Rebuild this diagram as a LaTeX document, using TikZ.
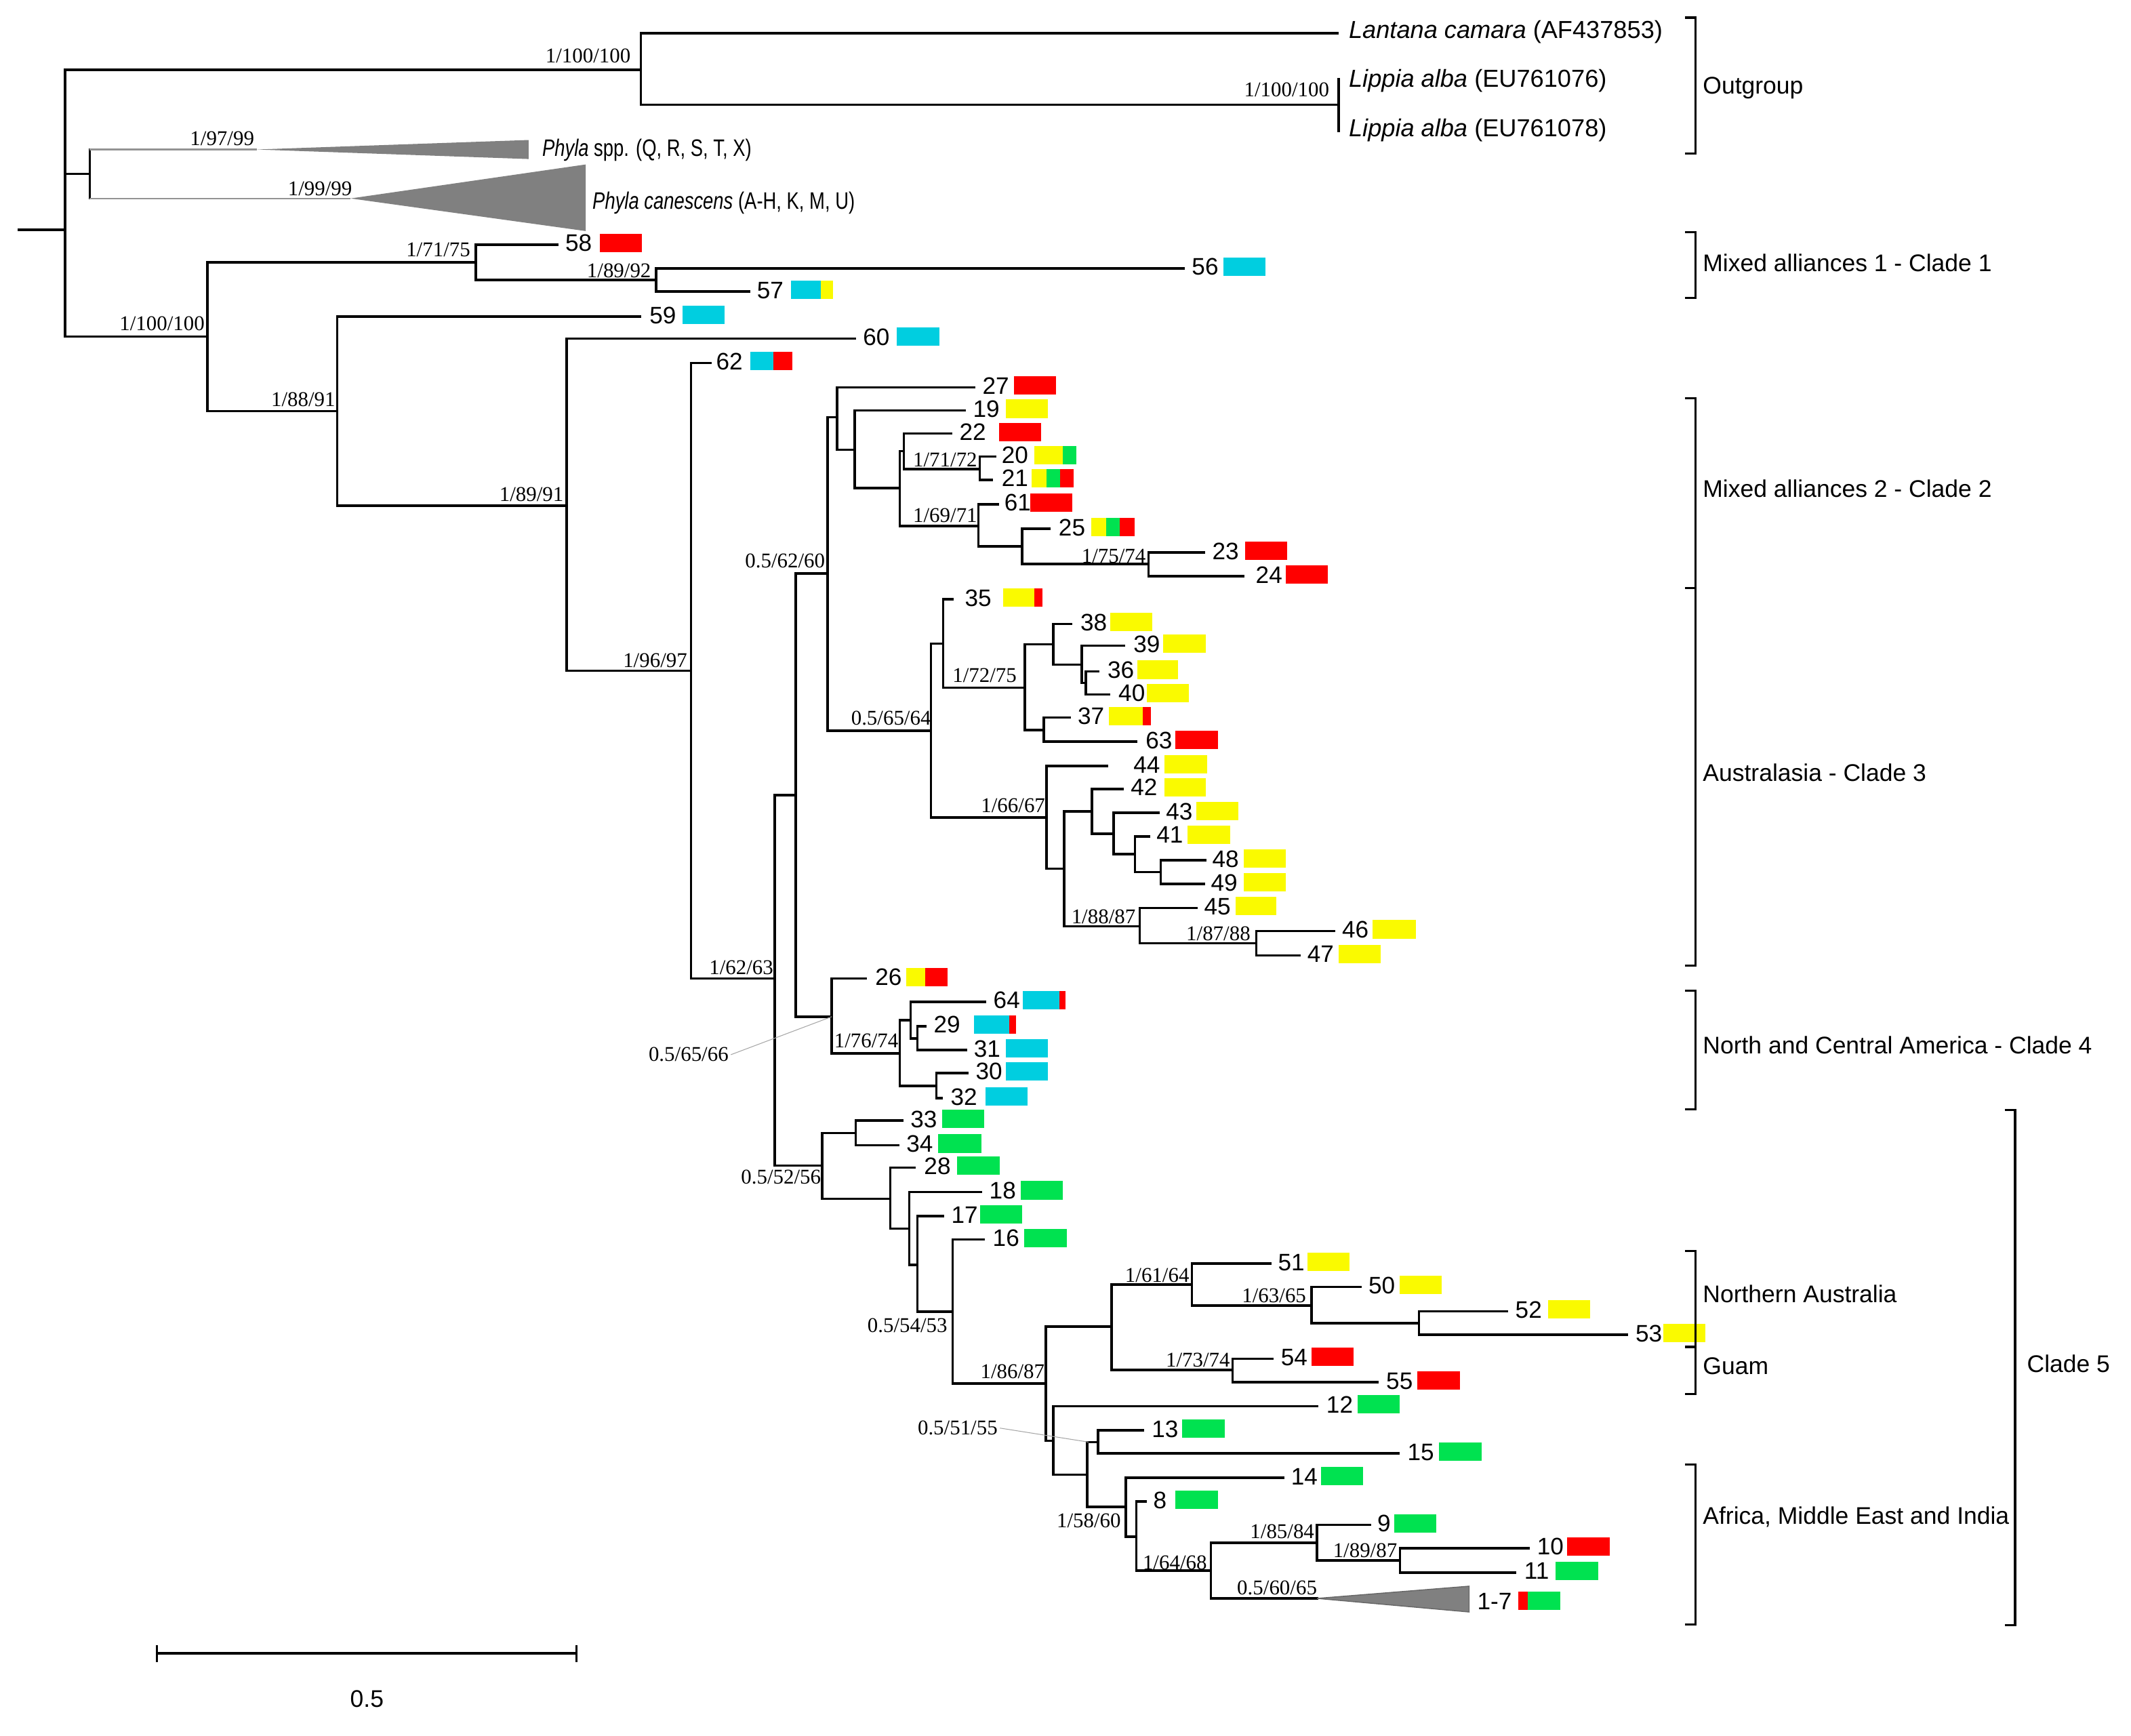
\documentclass[tikz,border=0pt]{standalone}
\usepackage{fontspec}
\setmainfont{Liberation Sans}
\setsansfont{Liberation Sans}
\newfontfamily\bsf{Liberation Serif}
\newfontfamily\nrw[FakeStretch=0.78]{Liberation Sans}
\definecolor{cyn}{RGB}{0,206,224}
\definecolor{yel}{RGB}{250,250,0}
\definecolor{grn}{RGB}{0,226,80}
\definecolor{red1}{RGB}{255,0,0}
\definecolor{tri}{RGB}{128,128,128}
\newcommand{\Br}[2]{\draw[br] (#1) |- (#2);}
\newcommand{\Lab}[4]{\node[num] (#1) at (#2,{#3+5}) {#4};}
\newcommand{\Bx}[4]{\fill[#4] (#2,{#1-8}) rectangle (#3,{#1+5.5});}
\newcommand{\Bs}[4]{\node[bs] (#1) at (#2,#3) {#4};}
\tikzset{
 br/.style={line width=1pt, line cap=rect},
 num/.style={font=\fontsize{10}{12}\selectfont, inner sep=0pt, outer sep=0pt, anchor=base west},
 bs/.style={font=\bsf\fontsize{8.8}{10}\selectfont, inner sep=0pt, outer sep=0pt, anchor=base east},
 clab/.style={font=\fontsize{10.1}{12}\selectfont, inner sep=0pt, outer sep=0pt, anchor=base west},
 olab/.style={font=\fontsize{10.3}{12}\selectfont, inner sep=0pt, outer sep=0pt, anchor=base west},
 nlab/.style={font=\nrw\fontsize{10}{12}\selectfont, inner sep=0pt, outer sep=0pt, anchor=base west},
 brk/.style={line width=0.9pt},
 gln/.style={line width=0.7pt, draw=tri!85},
 ldr/.style={line width=0.3pt, draw=black!35},
}
\begin{document}
\begin{tikzpicture}[x=0.02005cm, y=-0.02005cm]
\fill[white] (0,0) rectangle (1568,1277);
\useasboundingbox (0,0) rectangle (1568,1277);

% ---------- root and outgroup
\coordinate (rootL) at (14,169);
\coordinate (n0) at (48,169);
\draw[br] (rootL) -- (n0);
\coordinate (nOG) at (471.6,51.5);
\coordinate (tLan) at (984,24.4);
\coordinate (nLip) at (985,77);
\coordinate (tLip1) at (985,58);
\coordinate (tLip2) at (985,96.4);
\Br{n0}{nOG} \Br{nOG}{tLan} \Br{nOG}{nLip} \Br{nLip}{tLip1} \Br{nLip}{tLip2}
\node[olab] (lLan) at (992.5,28) {\textit{Lantana camara} (AF437853)};
\node[olab] (lLip1) at (992.5,64) {\textit{Lippia alba} (EU761076)};
\node[olab] (lLip2) at (992.5,100.6) {\textit{Lippia alba} (EU761078)};

% ---------- Phyla
\coordinate (nPh) at (66,128);
\Br{n0}{nPh}
\coordinate (pA) at (66,110);
\coordinate (pB) at (66,146);
\draw[br] (pA) -- (pB);
\coordinate (apx1) at (189,110);
\coordinate (apx2) at (258,146);
\draw[gln] (pA) -- (apx1);
\draw[gln] (pB) -- (apx2);
\fill[tri] (apx1) -- (389,103) -- (389,117) -- cycle;
\fill[tri] (apx2) -- (431,121) -- (431,170) -- cycle;
\node[nlab] (lPh1) at (399,115) {\textit{Phyla} spp. (Q, R, S, T, X)};
\node[nlab] (lPh2) at (436,154) {\textit{Phyla canescens} (A-H, K, M, U)};

% ---------- clade 1
\coordinate (nA) at (152.5,247.5); \Br{n0}{nA}
\coordinate (n1) at (350,193); \Br{nA}{n1}
\coordinate (t58) at (410,180); \Br{n1}{t58}
\coordinate (n2) at (482.8,206); \Br{n1}{n2}
\coordinate (t56) at (871,197.4); \Br{n2}{t56}
\coordinate (t57) at (551,214.5); \Br{n2}{t57}
\coordinate (nB) at (248,302.5); \Br{nA}{nB}
\coordinate (t59) at (471,233); \Br{nB}{t59}
\coordinate (nC) at (417,372); \Br{nB}{nC}
\coordinate (t60) at (629,249); \Br{nC}{t60}
\coordinate (nD) at (508.5,493.5); \Br{nC}{nD}
\coordinate (t62) at (523,267); \Br{nD}{t62}
\coordinate (nE) at (570,720); \Br{nD}{nE}
\coordinate (nF) at (585.5,585); \Br{nE}{nF}
\coordinate (nG) at (609,422); \Br{nF}{nG}

% ---------- clade 2
\coordinate (nI) at (616,307); \Br{nG}{nI}
\coordinate (t27) at (717,285); \Br{nI}{t27}
\coordinate (nJ) at (629,331); \Br{nI}{nJ}
\coordinate (t19) at (710,302); \Br{nJ}{t19}
\coordinate (nK2) at (662,359); \Br{nJ}{nK2}
\coordinate (nK) at (665,332); \Br{nK2}{nK}
\coordinate (t22) at (700,319); \Br{nK}{t22}
\coordinate (nL) at (721,345); \Br{nK}{nL}
\coordinate (t20) at (732,336); \Br{nL}{t20}
\coordinate (t21) at (730,353); \Br{nL}{t21}
\coordinate (nM) at (720,387); \Br{nK2}{nM}
\coordinate (t61) at (734,371); \Br{nM}{t61}
\coordinate (nN) at (752,402); \Br{nM}{nN}
\coordinate (t25) at (772,389); \Br{nN}{t25}
\coordinate (nO) at (845,415); \Br{nN}{nO}
\coordinate (t23) at (886,406.5); \Br{nO}{t23}
\coordinate (t24) at (915,424); \Br{nO}{t24}

% ---------- clade 3
\coordinate (nP) at (685,537.5); \Br{nG}{nP}
\coordinate (nQ) at (694,473.5); \Br{nP}{nQ}
\coordinate (t35) at (701,441); \Br{nQ}{t35}
\coordinate (nR) at (754,506); \Br{nQ}{nR}
\coordinate (nS) at (775,474); \Br{nR}{nS}
\coordinate (t38) at (788,459); \Br{nS}{t38}
\coordinate (nT) at (796,489); \Br{nS}{nT}
\coordinate (t39) at (827,475); \Br{nT}{t39}
\coordinate (nU) at (799,502.5); \Br{nT}{nU}
\coordinate (t36) at (808,494); \Br{nU}{t36}
\coordinate (t40) at (816,511); \Br{nU}{t40}
\coordinate (nV) at (768,537); \Br{nR}{nV}
\coordinate (t37) at (787,528); \Br{nV}{t37}
\coordinate (t63) at (836,545.6); \Br{nV}{t63}
\coordinate (nW) at (770,601.5); \Br{nP}{nW}
\coordinate (t44) at (814.5,563.6); \Br{nW}{t44}
\coordinate (nX) at (783,639); \Br{nW}{nX}
\coordinate (nY) at (803.5,597); \Br{nX}{nY}
\coordinate (t42) at (826,580.5); \Br{nY}{t42}
\coordinate (nZ) at (819.4,613.5); \Br{nY}{nZ}
\coordinate (t43) at (852.5,598); \Br{nZ}{t43}
\coordinate (nAA) at (835,628.5); \Br{nZ}{nAA}
\coordinate (t41) at (845.5,615.4); \Br{nAA}{t41}
\coordinate (nAB) at (854,641.7); \Br{nAA}{nAB}
\coordinate (t48) at (887,633); \Br{nAB}{t48}
\coordinate (t49) at (886,650.4); \Br{nAB}{t49}
\coordinate (nAC) at (838.5,681.5); \Br{nX}{nAC}
\coordinate (t45) at (880.5,668); \Br{nAC}{t45}
\coordinate (nAD) at (924.4,694); \Br{nAC}{nAD}
\coordinate (t46) at (981.6,685); \Br{nAD}{t46}
\coordinate (t47) at (956,703); \Br{nAD}{t47}

% ---------- clade 4
\coordinate (nH) at (612,748); \Br{nF}{nH}
\coordinate (t26) at (637,720); \Br{nH}{t26}
\coordinate (nAE) at (662,775); \Br{nH}{nAE}
\coordinate (nAF) at (670,750.5); \Br{nAE}{nAF}
\coordinate (t64) at (725,737); \Br{nAF}{t64}
\coordinate (nAG) at (675,764); \Br{nAF}{nAG}
\coordinate (t29) at (681,755); \Br{nAG}{t29}
\coordinate (t31) at (711,772.6); \Br{nAG}{t31}
\coordinate (nAH) at (689,799); \Br{nAE}{nAH}
\coordinate (t30) at (712,789.4); \Br{nAH}{t30}
\coordinate (t32) at (693,808); \Br{nAH}{t32}

% ---------- clade 5
\coordinate (nAI) at (605,857.5); \Br{nE}{nAI}
\coordinate (nAJ) at (629.6,833.5); \Br{nAI}{nAJ}
\coordinate (t33) at (664,824.5); \Br{nAJ}{t33}
\coordinate (t34) at (661,842.6); \Br{nAJ}{t34}
\coordinate (nAK) at (655,882); \Br{nAI}{nAK}
\coordinate (t28) at (673,859); \Br{nAK}{t28}
\coordinate (nAL) at (669,904); \Br{nAK}{nAL}
\coordinate (t18) at (721.7,877); \Br{nAL}{t18}
\coordinate (nAM) at (675,930.5); \Br{nAL}{nAM}
\coordinate (t17) at (694,894.8); \Br{nAM}{t17}
\coordinate (nAN) at (701,965); \Br{nAM}{nAN}
\coordinate (t16) at (724,912); \Br{nAN}{t16}
\coordinate (nAO) at (769.6,1018); \Br{nAN}{nAO}
\coordinate (nAP) at (818,976); \Br{nAO}{nAP}
\coordinate (nAQ) at (877,945); \Br{nAP}{nAQ}
\coordinate (t51) at (934.7,929.7); \Br{nAQ}{t51}
\coordinate (nAR) at (965,960.5); \Br{nAQ}{nAR}
\coordinate (t50) at (1001,946.8); \Br{nAR}{t50}
\coordinate (nAS) at (1044,973.4); \Br{nAR}{nAS}
\coordinate (t52) at (1109,964.7); \Br{nAS}{t52}
\coordinate (t53) at (1197,982); \Br{nAS}{t53}
\coordinate (nAT) at (907,1008); \Br{nAP}{nAT}
\coordinate (t54) at (936,999.6); \Br{nAT}{t54}
\coordinate (t55) at (1013.5,1017); \Br{nAT}{t55}
\coordinate (nAU) at (775,1060); \Br{nAO}{nAU}
\coordinate (t12) at (969,1034.5); \Br{nAU}{t12}
\coordinate (nAV) at (800,1085); \Br{nAU}{nAV}
\coordinate (nAW) at (808,1061); \Br{nAV}{nAW}
\coordinate (nAVtop) at (801,1061);
\coordinate (t13) at (841,1052.4); \Br{nAW}{t13}
\coordinate (t15) at (1029,1069.3); \Br{nAW}{t15}
\coordinate (nAX) at (828.5,1108.6); \Br{nAV}{nAX}
\coordinate (t14) at (944,1087.3); \Br{nAX}{t14}
\coordinate (nAY) at (836,1130.5); \Br{nAX}{nAY}
\coordinate (t8) at (843,1104.7); \Br{nAY}{t8}
\coordinate (nAZ) at (891,1155.5); \Br{nAY}{nAZ}
\coordinate (nBA) at (969,1135); \Br{nAZ}{nBA}
\coordinate (t9) at (1008,1122); \Br{nBA}{t9}
\coordinate (nBB) at (1030,1148); \Br{nBA}{nBB}
\coordinate (t10) at (1124.6,1139); \Br{nBB}{t10}
\coordinate (t11) at (1115,1157); \Br{nBB}{t11}
\coordinate (apx3) at (969,1176); \Br{nAZ}{apx3}
\filldraw[fill=tri, draw=black!60, line width=0.4pt] (apx3) -- (1081,1167) -- (1081,1186) -- cycle;

% ---------- tip labels and boxes
\Lab{l58}{416}{180}{58} \Bx{180}{441.5}{472.4}{red1}
\Lab{l56}{877}{197.4}{56} \Bx{197.4}{900}{931}{cyn}
\Lab{l57}{557}{214.5}{57} \Bx{214.5}{582}{604}{cyn} \Bx{214.5}{604}{613}{yel}
\Lab{l59}{478}{233}{59} \Bx{233}{502}{533}{cyn}
\Lab{l60}{635}{249}{60} \Bx{249}{660}{691}{cyn}
\Lab{l62}{527}{267}{62} \Bx{267}{552}{569}{cyn} \Bx{267}{569}{583}{red1}
\Lab{l27}{723}{285}{27} \Bx{285}{746}{777}{red1}
\Lab{l19}{716}{302}{19} \Bx{302}{740}{771}{yel}
\Lab{l22}{706}{319}{22} \Bx{319}{735}{766}{red1}
\Lab{l20}{737}{336}{20} \Bx{336}{761}{782}{yel} \Bx{336}{782}{792}{grn}
\Lab{l21}{737}{353}{21} \Bx{353}{759}{770}{yel} \Bx{353}{770}{780}{grn} \Bx{353}{780}{790}{red1}
\Lab{l61}{739}{371}{61} \Bx{371}{758}{789}{red1}
\Lab{l25}{779}{389}{25} \Bx{389}{803}{814}{yel} \Bx{389}{814}{824}{grn} \Bx{389}{824}{835}{red1}
\Lab{l23}{892}{406.5}{23} \Bx{406.5}{916}{947}{red1}
\Lab{l24}{924}{424}{24} \Bx{424}{946}{977}{red1}
\Lab{l35}{710}{441}{35} \Bx{441}{738}{761}{yel} \Bx{441}{761}{767}{red1}
\Lab{l38}{795}{459}{38} \Bx{459}{817}{848}{yel}
\Lab{l39}{834}{475}{39} \Bx{475}{856}{887}{yel}
\Lab{l36}{815}{494}{36} \Bx{494}{837}{867}{yel}
\Lab{l40}{823}{511}{40} \Bx{511}{844}{875}{yel}
\Lab{l37}{793}{528}{37} \Bx{528}{816}{841}{yel} \Bx{528}{841}{847}{red1}
\Lab{l63}{843}{545.6}{63} \Bx{545.6}{865}{896}{red1}
\Lab{l44}{834}{563.6}{44} \Bx{563.6}{857}{888}{yel}
\Lab{l42}{832}{580.5}{42} \Bx{580.5}{857}{887}{yel}
\Lab{l43}{858}{598}{43} \Bx{598}{880}{911}{yel}
\Lab{l41}{851}{615.4}{41} \Bx{615.4}{874}{905}{yel}
\Lab{l48}{892}{633}{48} \Bx{633}{915}{946}{yel}
\Lab{l49}{891}{650.4}{49} \Bx{650.4}{915}{946}{yel}
\Lab{l45}{886}{668}{45} \Bx{668}{909}{939}{yel}
\Lab{l46}{987.5}{685}{46} \Bx{685}{1010}{1042}{yel}
\Lab{l47}{962}{703}{47} \Bx{703}{985}{1016}{yel}
\Lab{l26}{644}{720}{26} \Bx{720}{667}{681}{yel} \Bx{720}{681}{697}{red1}
\Lab{l64}{731}{737}{64} \Bx{737}{752.6}{779.5}{cyn} \Bx{737}{779.5}{784}{red1}
\Lab{l29}{687}{755}{29} \Bx{755}{716.6}{742.6}{cyn} \Bx{755}{742.6}{747.6}{red1}
\Lab{l31}{716.6}{772.6}{31} \Bx{772.6}{740}{771}{cyn}
\Lab{l30}{718}{789.4}{30} \Bx{789.4}{740}{771}{cyn}
\Lab{l32}{699.5}{808}{32} \Bx{808}{725}{756}{cyn}
\Lab{l33}{670}{824.5}{33} \Bx{824.5}{693}{724}{grn}
\Lab{l34}{667}{842.6}{34} \Bx{842.6}{690}{722}{grn}
\Lab{l28}{680}{859}{28} \Bx{859}{704}{735.7}{grn}
\Lab{l18}{728}{877}{18} \Bx{877}{751}{782}{grn}
\Lab{l17}{700}{894.8}{17} \Bx{894.8}{721}{752}{grn}
\Lab{l16}{730.5}{912}{16} \Bx{912}{753.6}{785}{grn}
\Lab{l51}{940.4}{929.7}{51} \Bx{929.7}{962}{993}{yel}
\Lab{l50}{1007}{946.8}{50} \Bx{946.8}{1030}{1061}{yel}
\Lab{l52}{1115}{964.7}{52} \Bx{964.7}{1139}{1170}{yel}
\Lab{l53}{1203.5}{982}{53} \Bx{982}{1224}{1255}{yel}
\Lab{l54}{942.5}{999.6}{54} \Bx{999.6}{965}{996}{red1}
\Lab{l55}{1020}{1017}{55} \Bx{1017}{1043}{1074}{red1}
\Lab{l12}{976}{1034.5}{12} \Bx{1034.5}{999}{1030}{grn}
\Lab{l13}{847.5}{1052.4}{13} \Bx{1052.4}{870}{901}{grn}
\Lab{l15}{1035.7}{1069.3}{15} \Bx{1069.3}{1059}{1090}{grn}
\Lab{l14}{950}{1087.3}{14} \Bx{1087.3}{972}{1003}{grn}
\Lab{l8}{848.7}{1104.7}{8} \Bx{1104.7}{865}{896}{grn}
\Lab{l9}{1013.5}{1122}{9} \Bx{1122}{1026}{1057}{grn}
\Lab{l10}{1131}{1139}{10} \Bx{1139}{1153}{1184.5}{red1}
\Lab{l11}{1121.6}{1157}{11} \Bx{1157}{1144.5}{1176}{grn}
\Lab{l1to7}{1087}{1179}{1-7} \Bx{1179}{1117}{1124}{red1} \Bx{1179}{1124}{1148}{grn}

% ---------- support values
\Bs{b1}{464}{46}{1/100/100}
\Bs{b2}{978}{71}{1/100/100}
\Bs{b3}{187}{107}{1/97/99}
\Bs{b4}{259}{144}{1/99/99}
\Bs{b5}{346}{189}{1/71/75}
\Bs{b6}{479}{204}{1/89/92}
\Bs{b7}{150.5}{243}{1/100/100}
\Bs{b8}{246.7}{299}{1/88/91}
\Bs{b9}{414.6}{369}{1/89/91}
\Bs{b10}{505.6}{491}{1/96/97}
\Bs{b11}{569}{717}{1/62/63}
\Bs{b12}{607}{417.5}{0.5/62/60}
\Bs{b13}{719}{343.5}{1/71/72}
\Bs{b14}{719}{384.5}{1/69/71}
\Bs{b15}{843}{414}{1/75/74}
\Bs{b16}{685}{533.5}{0.5/65/64}
\Bs{b17}{748}{502}{1/72/75}
\Bs{b18}{769}{597.5}{1/66/67}
\Bs{b19}{835.5}{679.5}{1/88/87}
\Bs{b20}{920}{692}{1/87/88}
\Bs{b21}{536}{781}{0.5/65/66}
\Bs{b22}{661}{771}{1/76/74}
\Bs{b23}{604}{871}{0.5/52/56}
\Bs{b24}{697}{980}{0.5/54/53}
\Bs{b25}{768.6}{1014}{1/86/87}
\Bs{b26}{875}{943.5}{1/61/64}
\Bs{b27}{961}{958.5}{1/63/65}
\Bs{b28}{905}{1005.8}{1/73/74}
\Bs{b29}{734}{1055.7}{0.5/51/55}
\Bs{b30}{824.7}{1123.8}{1/58/60}
\Bs{b31}{888}{1154.6}{1/64/68}
\Bs{b32}{967}{1132}{1/85/84}
\Bs{b33}{1028}{1146}{1/89/87}
\Bs{b34}{969}{1173}{0.5/60/65}
\draw[ldr] ([xshift=1pt]b21.east) -- (nH);
\draw[ldr] ([xshift=1pt]b29.east) -- (nAVtop);

% ---------- brackets
\draw[brk] (1240,13) -- (1247.5,13) -- (1247.5,113) -- (1240,113);
\draw[brk] (1240,171) -- (1247.5,171) -- (1247.5,219) -- (1240,219);
\draw[brk] (1240,293) -- (1247.5,293) -- (1247.5,710.6) -- (1240,710.6);
\draw[brk] (1240,432.7) -- (1247.5,432.7);
\draw[brk] (1240,729) -- (1247.5,729) -- (1247.5,816) -- (1240,816);
\draw[brk] (1240,920.6) -- (1247.5,920.6) -- (1247.5,1025.7) -- (1240,1025.7);
\draw[brk] (1240,991) -- (1247.5,991);
\draw[brk] (1240,1077.7) -- (1247.5,1077.7) -- (1247.5,1195) -- (1240,1195);
\draw[brk] (1475,816.8) -- (1482.7,816.8) -- (1482.7,1195.8) -- (1475,1195.8);
\node[clab] (cOG) at (1253,69.3) {Outgroup};
\node[clab] (cM1) at (1253,199.5) {Mixed alliances 1 - Clade 1};
\node[clab] (cM2) at (1253,365.8) {Mixed alliances 2 - Clade 2};
\node[clab] (cAU) at (1253,574.8) {Australasia - Clade 3};
\node[clab] (cNA) at (1253,775.3) {North and Central America - Clade 4};
\node[clab] (cNAu) at (1253,958.5) {Northern Australia};
\node[clab] (cGu) at (1253,1011.4) {Guam};
\node[clab] (cAf) at (1253,1121.4) {Africa, Middle East and India};
\node[clab] (cC5) at (1491.5,1009.8) {Clade 5};

% ---------- scale bar
\coordinate (sb1) at (115.5,1216.5);
\coordinate (sb2) at (424,1216.5);
\draw[line width=1.1pt] (sb1) -- (sb2);
\draw[line width=0.9pt] (115.5,1210.5) -- (115.5,1223);
\draw[line width=0.9pt] (424,1210.5) -- (424,1223);
\node[clab, anchor=base] (sbl) at (270,1256) {0.5};
\end{tikzpicture}
\end{document}
